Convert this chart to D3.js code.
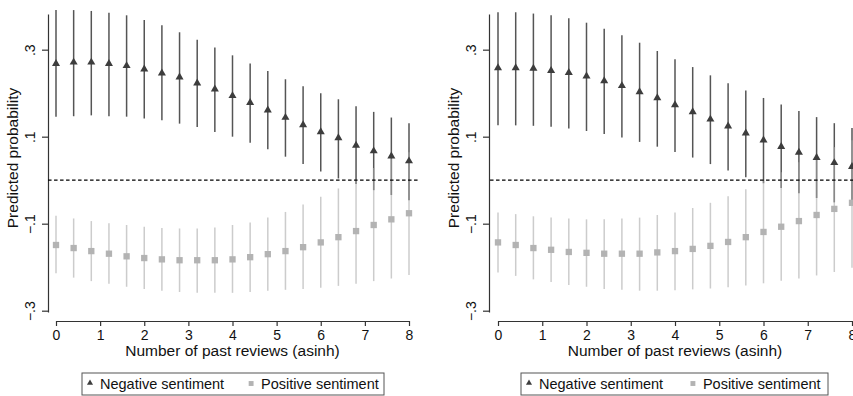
<!DOCTYPE html>
<html>
<head>
<meta charset="utf-8">
<script src="https://cdn.jsdelivr.net/npm/d3@7"></script>
<style>
  body { margin: 0; background: #fff; }
  svg { display: block; font-family: "Liberation Sans", Arial, sans-serif; }
</style>
</head>
<body>
<div id="vis"></div>
<script>
// x positions (asinh of past reviews)
const xVals = [0, 0.4, 0.8, 1.2, 1.6, 2.0, 2.4, 2.8, 3.2, 3.6, 4.0, 4.4, 4.8, 5.2, 5.6, 6.0, 6.4, 6.8, 7.2, 7.6, 8.0];
const xTicks = [0, 1, 2, 3, 4, 5, 6, 7, 8];
const yTicks = [-0.3, -0.1, 0.1, 0.3];
const yTickLabels = ["\u2212.3", "\u2212.1", ".1", ".3"];

// left panel
const leftNeg   = [0.268, 0.271, 0.271, 0.268, 0.263, 0.255, 0.246, 0.237, 0.223, 0.209, 0.194, 0.178, 0.161, 0.144, 0.127, 0.111, 0.097, 0.080, 0.067, 0.055, 0.044];
const leftNegHi = [0.391, 0.391, 0.389, 0.385, 0.379, 0.368, 0.356, 0.340, 0.323, 0.305, 0.287, 0.268, 0.251, 0.232, 0.216, 0.200, 0.186, 0.170, 0.157, 0.144, 0.131];
const leftNegLo = [0.146, 0.147, 0.149, 0.147, 0.146, 0.142, 0.138, 0.130, 0.122, 0.111, 0.100, 0.086, 0.071, 0.054, 0.037, 0.020, 0.004, -0.009, -0.023, -0.034, -0.046];
const leftPos   = [-0.149, -0.156, -0.163, -0.169, -0.175, -0.179, -0.182, -0.184, -0.184, -0.184, -0.182, -0.177, -0.170, -0.163, -0.154, -0.143, -0.131, -0.117, -0.103, -0.090, -0.076];
const leftPosHi = [-0.082, -0.088, -0.094, -0.099, -0.103, -0.107, -0.110, -0.111, -0.111, -0.109, -0.103, -0.097, -0.086, -0.073, -0.056, -0.038, -0.019, 0.002, 0.028, 0.050, 0.064];
const leftPosLo = [-0.214, -0.224, -0.232, -0.238, -0.245, -0.250, -0.254, -0.257, -0.259, -0.259, -0.259, -0.257, -0.254, -0.252, -0.250, -0.247, -0.243, -0.238, -0.232, -0.226, -0.218];

// right panel
const rightNeg   = [0.258, 0.258, 0.257, 0.252, 0.247, 0.239, 0.228, 0.217, 0.203, 0.189, 0.173, 0.157, 0.140, 0.124, 0.108, 0.092, 0.077, 0.064, 0.052, 0.040, 0.031];
const rightNegHi = [0.386, 0.386, 0.383, 0.379, 0.372, 0.362, 0.348, 0.333, 0.316, 0.297, 0.278, 0.260, 0.241, 0.223, 0.206, 0.189, 0.174, 0.159, 0.145, 0.131, 0.120];
const rightNegLo = [0.126, 0.126, 0.125, 0.123, 0.119, 0.113, 0.106, 0.098, 0.088, 0.077, 0.065, 0.052, 0.037, 0.022, 0.007, -0.007, -0.018, -0.030, -0.041, -0.051, -0.057];
const rightPos   = [-0.143, -0.149, -0.156, -0.160, -0.165, -0.167, -0.169, -0.169, -0.169, -0.166, -0.163, -0.158, -0.151, -0.142, -0.131, -0.119, -0.107, -0.094, -0.080, -0.066, -0.052];
const rightPosHi = [-0.074, -0.078, -0.083, -0.086, -0.088, -0.090, -0.090, -0.088, -0.086, -0.080, -0.074, -0.064, -0.052, -0.037, -0.021, -0.002, 0.018, 0.041, 0.060, 0.076, 0.092];
const rightPosLo = [-0.212, -0.220, -0.228, -0.234, -0.241, -0.245, -0.250, -0.252, -0.254, -0.254, -0.253, -0.251, -0.249, -0.246, -0.242, -0.237, -0.231, -0.226, -0.219, -0.211, -0.201];

const width = 853, height = 396;

const svg = d3.select("#vis").append("svg")
  .attr("width", width)
  .attr("height", height);

const y = d3.scaleLinear().domain([-0.303, 0.382]).range([312, 14]);

const panels = [
  { x0: 56, x1: 409, axisX: 48, neg: leftNeg, negLo: leftNegLo, negHi: leftNegHi, pos: leftPos, posLo: leftPosLo, posHi: leftPosHi, legX: 82, legW: 302 },
  { x0: 498, x1: 852, axisX: 489, neg: rightNeg, negLo: rightNegLo, negHi: rightNegHi, pos: rightPos, posLo: rightPosLo, posHi: rightPosHi, legX: 521, legW: 307 }
];

panels.forEach(p => {
  const x = d3.scaleLinear().domain([0, 8]).range([p.x0, p.x1]);
  const g = svg.append("g");

  // y axis
  const yAxis = g.append("g")
    .attr("transform", `translate(${p.axisX},0)`)
    .call(d3.axisLeft(y).tickValues(yTicks).tickSize(6).tickSizeOuter(0)
      .tickFormat((d, i) => yTickLabels[i]));
  yAxis.select(".domain").attr("stroke", "#333").attr("stroke-width", 1.2);
  yAxis.selectAll(".tick line").attr("stroke", "#333").attr("stroke-width", 1.2);
  yAxis.selectAll(".tick text")
    .attr("transform", "rotate(-90)")
    .attr("x", 0).attr("y", -13).attr("dy", 0)
    .attr("text-anchor", "middle")
    .attr("fill", "#111")
    .style("font-size", "14px");

  // x axis
  const xAxis = g.append("g")
    .attr("transform", "translate(0,321)")
    .call(d3.axisBottom(x).tickValues(xTicks).tickSize(5).tickSizeOuter(0).tickPadding(4));
  xAxis.select(".domain").attr("stroke", "#333").attr("stroke-width", 1.2);
  xAxis.selectAll(".tick line").attr("stroke", "#333").attr("stroke-width", 1.2);
  xAxis.selectAll(".tick text").attr("fill", "#111").style("font-size", "14px");

  // titles
  g.append("text")
    .attr("transform", `translate(${p.axisX - 30},158) rotate(-90)`)
    .attr("text-anchor", "middle")
    .attr("fill", "#111")
    .style("font-size", "15.5px")
    .text("Predicted probability");
  g.append("text")
    .attr("x", (p.x0 + p.x1) / 2).attr("y", 356)
    .attr("text-anchor", "middle")
    .attr("fill", "#111")
    .style("font-size", "15.5px")
    .text("Number of past reviews (asinh)");

  // negative CIs
  g.selectAll(".negci").data(xVals).join("line")
    .attr("x1", d => x(d)).attr("x2", d => x(d))
    .attr("y1", (d, i) => y(p.negLo[i])).attr("y2", (d, i) => y(p.negHi[i]))
    .attr("stroke", "#555").attr("stroke-width", 1.5);

  // positive CIs (semi-transparent so overlaps read as mid grey)
  g.selectAll(".posci").data(xVals).join("line")
    .attr("x1", d => x(d)).attr("x2", d => x(d))
    .attr("y1", (d, i) => y(p.posLo[i])).attr("y2", (d, i) => y(p.posHi[i]))
    .attr("stroke", "#aaa").attr("stroke-opacity", 0.6).attr("stroke-width", 1.5);

  // zero line
  g.append("line")
    .attr("x1", x(-0.18)).attr("x2", x(8.21))
    .attr("y1", y(0)).attr("y2", y(0))
    .attr("stroke", "#000").attr("stroke-width", 1.2)
    .attr("stroke-dasharray", "3.5,2.5");

  // markers
  g.selectAll(".negpt").data(xVals).join("path")
    .attr("d", d3.symbol(d3.symbolTriangle, 28))
    .attr("transform", (d, i) => `translate(${x(d)},${y(p.neg[i])})`)
    .attr("fill", "#3d3d3d");
  g.selectAll(".pospt").data(xVals).join("path")
    .attr("d", d3.symbol(d3.symbolSquare, 40))
    .attr("transform", (d, i) => `translate(${x(d)},${y(p.pos[i])})`)
    .attr("fill", "#b3b3b3");

  // legend
  const sqX = p.legW * 0.56;
  const leg = g.append("g").attr("transform", `translate(${p.legX},373)`);
  leg.append("rect")
    .attr("width", p.legW).attr("height", 22)
    .attr("fill", "#fff").attr("stroke", "#555").attr("stroke-width", 1);
  leg.append("path")
    .attr("d", d3.symbol(d3.symbolTriangle, 16))
    .attr("transform", "translate(8,10)")
    .attr("fill", "#3d3d3d");
  leg.append("text").attr("x", 18).attr("y", 16)
    .attr("fill", "#111").style("font-size", "14.5px")
    .text("Negative sentiment");
  leg.append("path")
    .attr("d", d3.symbol(d3.symbolSquare, 24))
    .attr("transform", `translate(${sqX},10.5)`)
    .attr("fill", "#b3b3b3");
  leg.append("text").attr("x", sqX + 10).attr("y", 16)
    .attr("fill", "#111").style("font-size", "14.5px")
    .text("Positive sentiment");
});
</script>
</body>
</html>
